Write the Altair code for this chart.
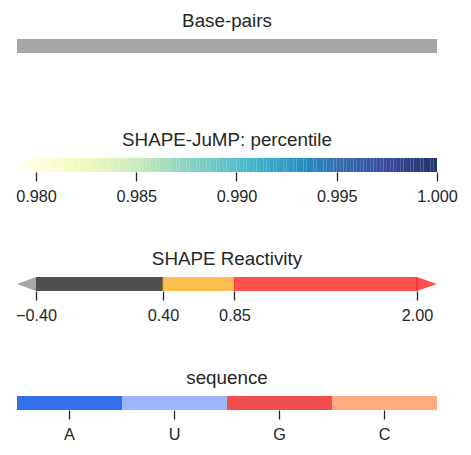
import altair as alt
import numpy as np
import pandas as pd

# ---- data ----
titles = ["Base-pairs", "SHAPE-JuMP: percentile", "SHAPE Reactivity", "sequence"]

basepair_span = [0.0, 1.0]

jump_ticks = [0.980, 0.985, 0.990, 0.995, 1.000]
jump_min, jump_max = 0.980, 1.000

shape_bounds = [-0.40, 0.40, 0.85, 2.00]
shape_names = ["low", "mid", "high"]
shape_colors = ["#4f4f4f", "#fdbf4f", "#ff4f4f"]
shape_under_color = "#a8a8a8"
shape_over_color = "#ff4f4f"
shape_edge_names = ["e1", "e2", "e3"]
shape_edge_colors = ["#e0a030", "#ff3535", "#e82020"]

seq_letters = ["A", "U", "G", "C"]
seq_colors = ["#3470eb", "#9bb8fd", "#f04e4e", "#ffaa7f"]

YLGNBU = ["#ffffd9", "#edf8b1", "#c7e9b4", "#7fcdbb", "#41b6c4",
          "#1d91c0", "#225ea8", "#253494", "#081d58"]

TXT = "#262626"
W, H = 420, 14
FONT = "Liberation Sans"
TITLE_FS = 18.8
LABEL_FS = 16.3
NOVIEW = alt.ViewBackground(stroke="transparent", strokeWidth=0)


def ttl(t):
    return alt.TitleParams(t, anchor="middle", fontSize=TITLE_FS, font=FONT, color=TXT,
                           fontWeight="normal", baseline="alphabetic", offset=-7)


def qaxis(values, fmt):
    return alt.Axis(values=values, format=fmt, domain=False, grid=False, ticks=True,
                    tickSize=9, tickWidth=1.3, tickColor=TXT, labelFontSize=LABEL_FS,
                    labelFont=FONT, labelColor=TXT, labelPadding=7, title=None,
                    labelFlush=False, labelOverlap=False)


yscale = alt.Scale(domain=[0, 1], nice=False, zero=False)

# ---- panel 1: base-pairs ----
df1 = pd.DataFrame({"x": [basepair_span[0]], "x2": [basepair_span[1]]})
p1 = alt.Chart(df1).mark_rect(color="#a6a6a6").encode(
    x=alt.X("x:Q", scale=alt.Scale(domain=basepair_span, nice=False, zero=False), axis=None),
    x2="x2:Q",
).properties(width=W, height=H, title=ttl(titles[0]), view=NOVIEW)

# ---- panel 2: SHAPE-JuMP percentile (gradient with extend-min arrow) ----
body_px = W - 19
per_px = (jump_max - jump_min) / body_px
jump_lo = jump_min - 19 * per_px
levels = np.linspace(jump_min, jump_max, 121)
df2 = pd.DataFrame({"x": levels[:-1], "x2": levels[1:],
                    "v": (levels[:-1] + levels[1:]) / 2})
xs2 = alt.Scale(domain=[jump_lo, jump_max], nice=False, zero=False)
grad = alt.Chart(df2).mark_rect(opacity=0.9).encode(
    x=alt.X("x:Q", scale=xs2, axis=qaxis(jump_ticks, ".3f")),
    x2="x2:Q",
    color=alt.Color("v:Q", scale=alt.Scale(domain=[jump_min, jump_max], range=YLGNBU), legend=None),
)
tri2 = pd.DataFrame({"x": [jump_lo, jump_min], "lo": [0.5, 0.0], "hi": [0.5, 1.0]})
arrow2 = alt.Chart(tri2).mark_area(color=YLGNBU[0], opacity=0.9).encode(
    x=alt.X("x:Q", scale=xs2), y=alt.Y("lo:Q", scale=yscale, axis=None), y2="hi:Q")
p2 = alt.layer(grad, arrow2).properties(width=W, height=H, title=ttl(titles[1]), view=NOVIEW)

# ---- panel 3: SHAPE reactivity ----
s_min, s_max = shape_bounds[0], shape_bounds[-1]
per_px3 = (s_max - s_min) / (W - 19 - 20)
s_lo = s_min - 19 * per_px3
s_hi = s_max + 20 * per_px3
xs3 = alt.Scale(domain=[s_lo, s_hi], nice=False, zero=False)
cscale3 = alt.Scale(domain=shape_names + ["under", "over"] + shape_edge_names,
                    range=shape_colors + [shape_under_color, shape_over_color] + shape_edge_colors)
df3 = pd.DataFrame({"x": shape_bounds[:-1], "x2": shape_bounds[1:], "c": shape_names})
rects3 = alt.Chart(df3).mark_rect().encode(
    x=alt.X("x:Q", scale=xs3, axis=qaxis(shape_bounds, ".2f")),
    x2="x2:Q",
    color=alt.Color("c:N", scale=cscale3, legend=None),
)
tri3 = pd.DataFrame({
    "x": [s_lo, s_min, s_max, s_hi],
    "lo": [0.5, 0.0, 0.0, 0.5],
    "hi": [0.5, 1.0, 1.0, 0.5],
    "c": ["under", "under", "over", "over"],
})
arrows3 = alt.Chart(tri3).mark_area().encode(
    x=alt.X("x:Q", scale=xs3), y=alt.Y("lo:Q", scale=yscale, axis=None), y2="hi:Q",
    color=alt.Color("c:N", scale=cscale3, legend=None))
df3e = pd.DataFrame({"x": shape_bounds[1:], "c": shape_edge_names})
edges3 = alt.Chart(df3e).mark_rule(strokeWidth=1).encode(
    x=alt.X("x:Q", scale=xs3),
    color=alt.Color("c:N", scale=cscale3, legend=None))
p3 = alt.layer(rects3, arrows3, edges3).properties(width=W, height=H, title=ttl(titles[2]), view=NOVIEW)

# ---- panel 4: sequence ----
df4 = pd.DataFrame({"s": seq_letters})
p4 = alt.Chart(df4).mark_rect().encode(
    x=alt.X("s:N", sort=seq_letters,
            scale=alt.Scale(paddingInner=0, paddingOuter=0),
            axis=alt.Axis(domain=False, grid=False, ticks=True, tickSize=9, tickWidth=1.3,
                          tickColor=TXT, labelFontSize=LABEL_FS, labelFont=FONT, labelColor=TXT,
                          labelPadding=7, labelAngle=0, title=None)),
    color=alt.Color("s:N", scale=alt.Scale(domain=seq_letters, range=seq_colors), legend=None),
).properties(width=W, height=H, title=ttl(titles[3]), view=NOVIEW)

chart = alt.vconcat(p1, p2, p3, p4, spacing=105, bounds="flush").resolve_scale(
    color="independent"
).properties(
    padding={"left": 7, "top": 4, "right": 5, "bottom": 5}
).configure_view(
    strokeWidth=0, stroke="transparent"
).configure_axis(grid=False, domain=False).configure(font=FONT)

chart.save("out.html", embed_options={"renderer": "svg", "actions": False})
